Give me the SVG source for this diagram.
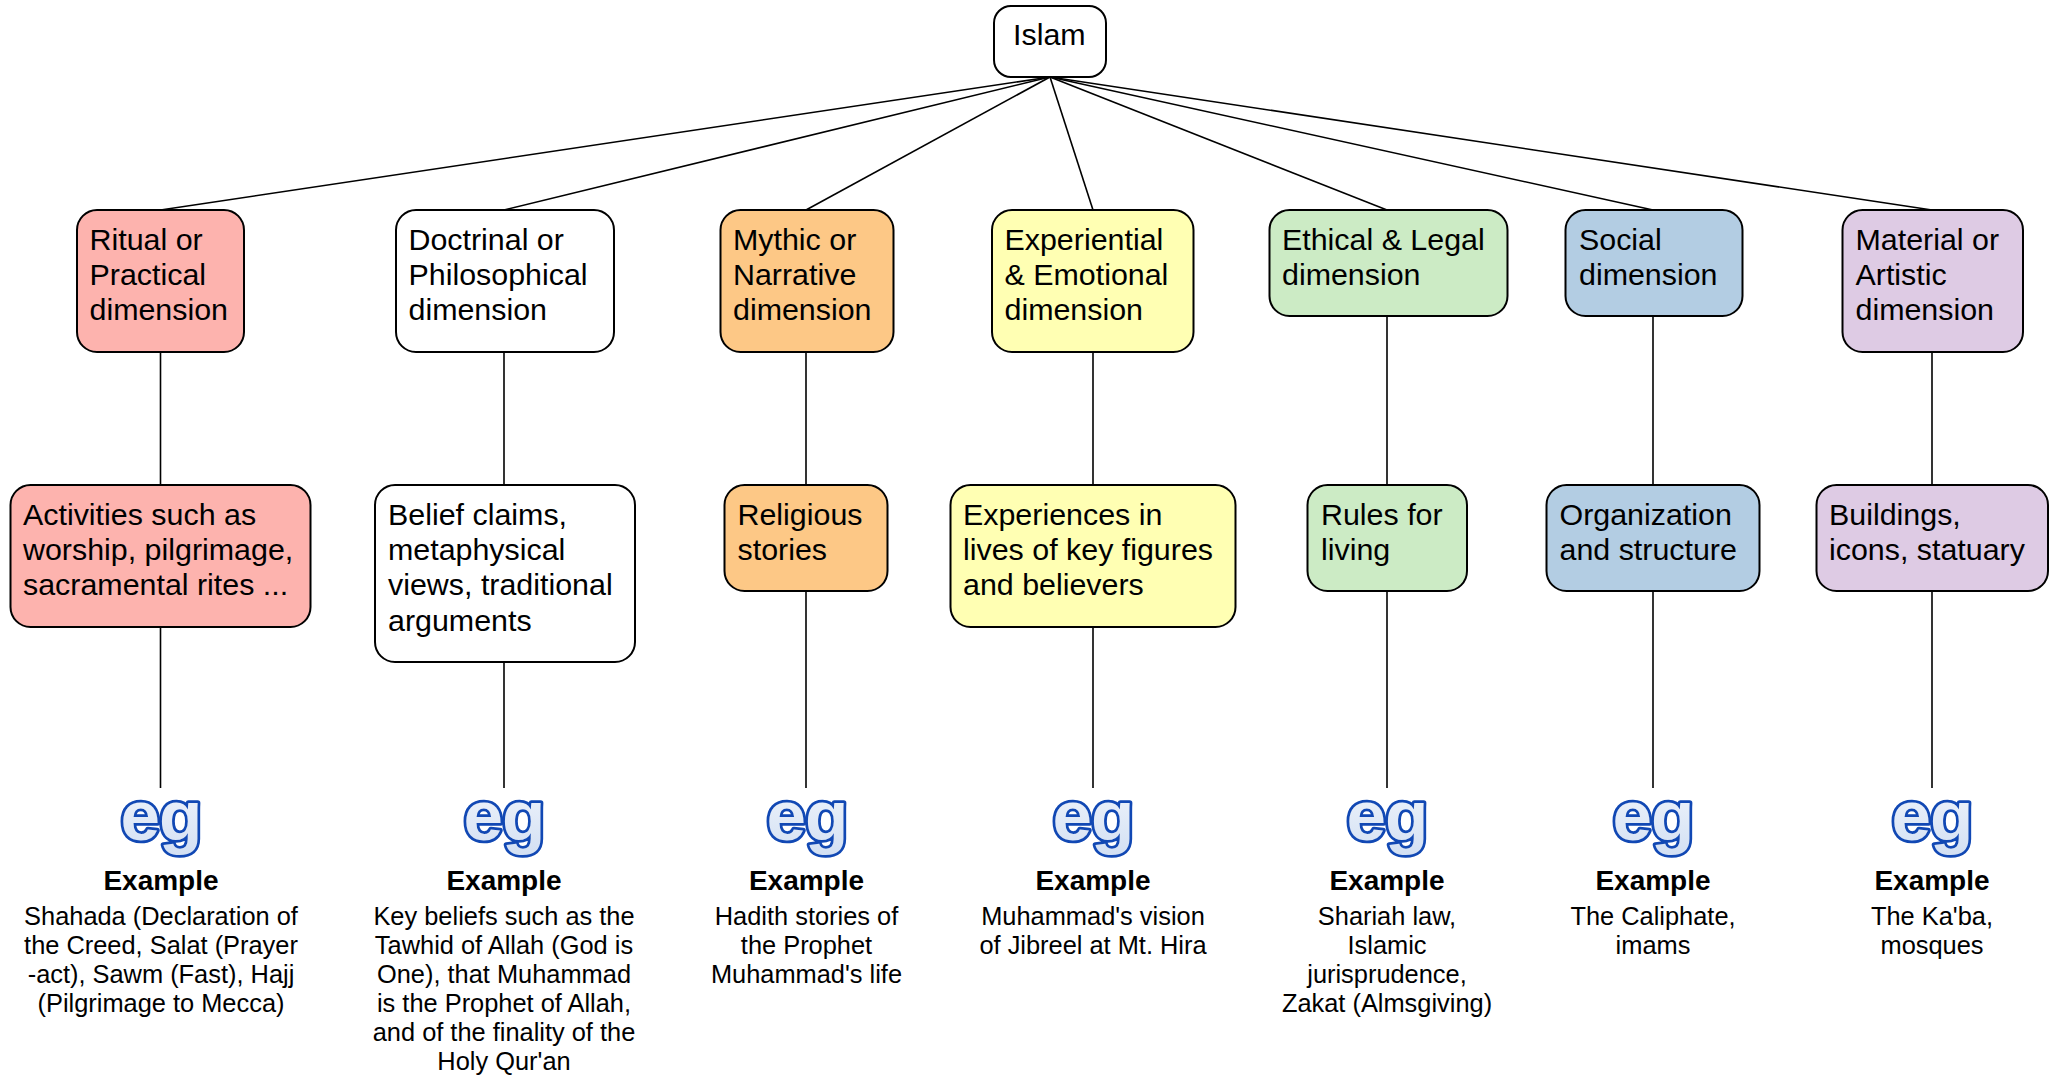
<svg xmlns="http://www.w3.org/2000/svg" width="2060" height="1076" viewBox="0 0 2060 1076">
<style>
text{font-family:"Liberation Sans",Arial,sans-serif;fill:#000}
.n{stroke:#000;stroke-width:2}
.t{font-size:30.4px}
.h{font-size:28px;font-weight:bold;text-anchor:middle}
.b{font-size:25.4px;text-anchor:middle}
.eg{font-size:71px;font-weight:bold;text-anchor:middle;fill:url(#egf);stroke:#1148b4;stroke-width:5.5;stroke-linejoin:round;paint-order:stroke;letter-spacing:-1px}
#c line{stroke:#000;stroke-width:1.6}
</style>
<defs><linearGradient id="egf" x1="0" y1="0" x2="0" y2="1"><stop offset="0" stop-color="#f2f6fc"/><stop offset="1" stop-color="#d3e0f3"/></linearGradient></defs>
<rect width="2060" height="1076" fill="#fff"/>
<g id="c">
<line x1="1050" y1="77" x2="160.500" y2="210"/><line x1="1050" y1="77" x2="504" y2="210"/><line x1="1050" y1="77" x2="806" y2="210"/><line x1="1050" y1="77" x2="1093" y2="210"/><line x1="1050" y1="77" x2="1387" y2="210"/><line x1="1050" y1="77" x2="1653" y2="210"/><line x1="1050" y1="77" x2="1932" y2="210"/>
<line x1="160.500" y1="352" x2="160.500" y2="788"/><line x1="504" y1="352" x2="504" y2="788"/><line x1="806" y1="352" x2="806" y2="788"/><line x1="1093" y1="352" x2="1093" y2="788"/><line x1="1387" y1="316" x2="1387" y2="788"/><line x1="1653" y1="316" x2="1653" y2="788"/><line x1="1932" y1="352" x2="1932" y2="788"/>
</g>
<g id="islam"><rect class="n" x="994" y="6" width="112" height="71" rx="17" fill="#fff"/><text class="t" x="1013" y="45">Islam</text></g>
<g id="ritual"><rect class="n" x="77" y="210" width="167" height="142" rx="20" fill="#fdb3ae"/><text class="t" x="89.500" y="250">Ritual or</text><text class="t" x="89.500" y="285">Practical</text><text class="t" x="89.500" y="320">dimension</text></g>
<g id="doctrinal"><rect class="n" x="396" y="210" width="218" height="142" rx="20" fill="#fff"/><text class="t" x="408.500" y="250">Doctrinal or</text><text class="t" x="408.500" y="285">Philosophical</text><text class="t" x="408.500" y="320">dimension</text></g>
<g id="mythic"><rect class="n" x="720.500" y="210" width="173" height="142" rx="20" fill="#fdc886"/><text class="t" x="733" y="250">Mythic or</text><text class="t" x="733" y="285">Narrative</text><text class="t" x="733" y="320">dimension</text></g>
<g id="experiential"><rect class="n" x="992" y="210" width="201.500" height="142" rx="20" fill="#ffffb3"/><text class="t" x="1004.500" y="250">Experiential</text><text class="t" x="1004.500" y="285">&amp; Emotional</text><text class="t" x="1004.500" y="320">dimension</text></g>
<g id="ethical"><rect class="n" x="1269.500" y="210" width="238" height="106" rx="20" fill="#ccebc5"/><text class="t" x="1282" y="250">Ethical &amp; Legal</text><text class="t" x="1282" y="285">dimension</text></g>
<g id="social"><rect class="n" x="1565.500" y="210" width="177" height="106" rx="20" fill="#b3cde3"/><text class="t" x="1579" y="250">Social</text><text class="t" x="1579" y="285">dimension</text></g>
<g id="material"><rect class="n" x="1842.500" y="210" width="180.500" height="142" rx="20" fill="#decbe4"/><text class="t" x="1855.500" y="250">Material or</text><text class="t" x="1855.500" y="285">Artistic</text><text class="t" x="1855.500" y="320">dimension</text></g>
<g id="activities"><rect class="n" x="10.500" y="485" width="300" height="142" rx="20" fill="#fdb3ae"/><text class="t" x="23" y="525">Activities such as</text><text class="t" x="23" y="560">worship, pilgrimage,</text><text class="t" x="23" y="595">sacramental rites ...</text></g>
<g id="belief"><rect class="n" x="375" y="485" width="260" height="177" rx="20" fill="#fff"/><text class="t" x="388" y="525">Belief claims,</text><text class="t" x="388" y="560">metaphysical</text><text class="t" x="388" y="595">views, traditional</text><text class="t" x="388" y="631">arguments</text></g>
<g id="religious"><rect class="n" x="724.500" y="485" width="163" height="106" rx="20" fill="#fdc886"/><text class="t" x="737.500" y="525">Religious</text><text class="t" x="737.500" y="560">stories</text></g>
<g id="experiences"><rect class="n" x="950.500" y="485" width="285" height="142" rx="20" fill="#ffffb3"/><text class="t" x="963" y="525">Experiences in</text><text class="t" x="963" y="560">lives of key figures</text><text class="t" x="963" y="595">and believers</text></g>
<g id="rules"><rect class="n" x="1307.500" y="485" width="159.500" height="106" rx="20" fill="#ccebc5"/><text class="t" x="1321" y="525">Rules for</text><text class="t" x="1321" y="560">living</text></g>
<g id="organization"><rect class="n" x="1546.500" y="485" width="213" height="106" rx="20" fill="#b3cde3"/><text class="t" x="1559.500" y="525">Organization</text><text class="t" x="1559.500" y="560">and structure</text></g>
<g id="buildings"><rect class="n" x="1816.500" y="485" width="231.500" height="106" rx="20" fill="#decbe4"/><text class="t" x="1829" y="525">Buildings,</text><text class="t" x="1829" y="560">icons, statuary</text></g>
<g id="example1"><text class="eg" x="161" y="840">eg</text><text class="h" x="161" y="890">Example</text><text class="b" x="161" y="925">Shahada (Declaration of</text><text class="b" x="161" y="954">the Creed, Salat (Prayer</text><text class="b" x="161" y="983">-act), Sawm (Fast), Hajj</text><text class="b" x="161" y="1012">(Pilgrimage to Mecca)</text></g>
<g id="example2"><text class="eg" x="504" y="840">eg</text><text class="h" x="504" y="890">Example</text><text class="b" x="504" y="925">Key beliefs such as the</text><text class="b" x="504" y="954">Tawhid of Allah (God is</text><text class="b" x="504" y="983">One), that Muhammad</text><text class="b" x="504" y="1012">is the Prophet of Allah,</text><text class="b" x="504" y="1041">and of the finality of the</text><text class="b" x="504" y="1070">Holy Qur'an</text></g>
<g id="example3"><text class="eg" x="807" y="840">eg</text><text class="h" x="806.500" y="890">Example</text><text class="b" x="806.500" y="925">Hadith stories of</text><text class="b" x="806.500" y="954">the Prophet</text><text class="b" x="806.500" y="983">Muhammad's life</text></g>
<g id="example4"><text class="eg" x="1093" y="840">eg</text><text class="h" x="1093" y="890">Example</text><text class="b" x="1093" y="925">Muhammad's vision</text><text class="b" x="1093" y="954">of Jibreel at Mt. Hira</text></g>
<g id="example5"><text class="eg" x="1387" y="840">eg</text><text class="h" x="1387" y="890">Example</text><text class="b" x="1387" y="925">Shariah law,</text><text class="b" x="1387" y="954">Islamic</text><text class="b" x="1387" y="983">jurisprudence,</text><text class="b" x="1387" y="1012">Zakat (Almsgiving)</text></g>
<g id="example6"><text class="eg" x="1653" y="840">eg</text><text class="h" x="1653" y="890">Example</text><text class="b" x="1653" y="925">The Caliphate,</text><text class="b" x="1653" y="954">imams</text></g>
<g id="example7"><text class="eg" x="1932" y="840">eg</text><text class="h" x="1932" y="890">Example</text><text class="b" x="1932" y="925">The Ka'ba,</text><text class="b" x="1932" y="954">mosques</text></g>
</svg>
